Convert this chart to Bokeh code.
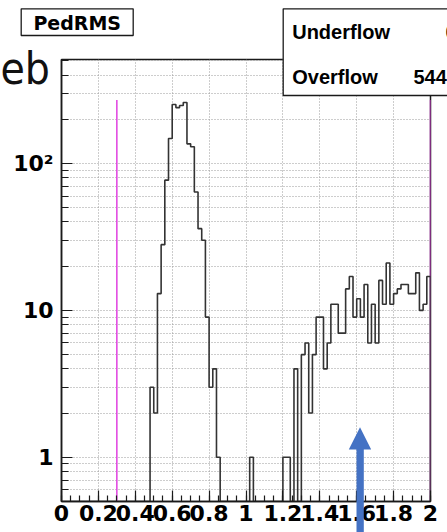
import numpy as np
from bokeh.plotting import figure
from bokeh.models import Range1d, FixedTicker, CustomJSTickFormatter
from bokeh.core.properties import value
from bokeh.embed import file_html
from bokeh.resources import INLINE

# PedRMS distribution: 100 bins of width 0.02 from 0 to 2
bin_low = 0.0
bin_high = 2.0
n_bins = 100
counts = ([0] * 24
          + [3, 2, 13, 28, 77, 148, 252, 240, 248, 260, 136, 130, 64, 36, 30, 9, 3, 4, 1]
          + [0] * 8 + [1] + [0] * 8
          + [1, 1, 0, 4, 0, 5, 6, 2, 5, 9, 9, 4, 6, 11, 11, 7, 7, 14, 17, 9,
             12, 9, 15, 6, 11, 6, 16, 11, 21, 11, 13, 14, 15, 15, 13, 13, 18, 10, 11, 17])
underflow = "0"
overflow = "544"

# cut lines
cut_positions = [0.3, 2.0]
cut_top = 270

x_ticks = [0.0, 0.2, 0.4, 0.6, 0.8, 1.0, 1.2, 1.4, 1.6, 1.8, 2.0]
x_tick_labels = ["0", "0.2", "0.4", "0.6", "0.8", "1", "1.2", "1.4", "1.6", "1.8", "2"]
x_minor = [round(0.05 * k, 2) for k in range(41)]
y_ticks = [1, 10, 100]
y_tick_labels = ["1", "10", "10\u00b2"]
y_minor = [0.5, 0.6, 0.7, 0.8, 0.9, 2, 3, 4, 5, 6, 7, 8, 9,
           20, 30, 40, 50, 60, 70, 80, 90, 200, 300, 400, 500]
y_low, y_high = 0.5, 510

W, H = 447, 532
FL, FR, FT, FB = 61, 17, 59, 31  # frame borders

chart = figure(width=W, height=H, y_axis_type="log", output_backend="svg",
               toolbar_location=None, x_range=Range1d(bin_low, bin_high),
               y_range=Range1d(y_low, y_high),
               min_border_left=FL, min_border_right=FR,
               min_border_top=FT, min_border_bottom=FB)
chart.background_fill_color = "white"
chart.border_fill_color = "white"
chart.outline_line_color = "#1a1a1a"
chart.outline_line_width = 1.5

# histogram outline (empty bins sit on the lower edge of the frame)
edges = np.linspace(bin_low, bin_high, n_bins + 1)
hx, hy = [edges[0]], [y_low]
for i, c in enumerate(counts):
    h = c if c > 0 else y_low
    hx += [edges[i], edges[i + 1]]
    hy += [h, h]
hx.append(edges[-1])
hy.append(y_low)

# grids
xt = FixedTicker(ticks=x_ticks, minor_ticks=x_minor)
yt = FixedTicker(ticks=y_ticks, minor_ticks=y_minor)
chart.xaxis.ticker = xt
chart.yaxis.ticker = yt
chart.xgrid.ticker = xt
chart.ygrid.ticker = yt
for g in (chart.xgrid, chart.ygrid):
    g.grid_line_color = "#9a9a9a"
    g.grid_line_dash = "1 2"
    g.grid_line_width = 1
chart.ygrid.minor_grid_line_color = "#9a9a9a"
chart.ygrid.minor_grid_line_dash = "1 2"
chart.ygrid.minor_grid_line_width = 1

chart.segment(x0=cut_positions, y0=[y_low] * 2, x1=cut_positions, y1=[cut_top] * 2,
              line_color="#e040e0", line_width=1.5)
chart.line(hx, hy, line_color="#333333", line_width=1.6)

# axes
fmt_code = """
const i = tick_vals.findIndex(t => Math.abs(t - tick) < 1e-6 * Math.max(1, Math.abs(t)));
return i >= 0 ? tick_text[i] : "";
"""
chart.xaxis.formatter = CustomJSTickFormatter(
    args=dict(tick_vals=x_ticks, tick_text=x_tick_labels), code=fmt_code)
chart.yaxis.formatter = CustomJSTickFormatter(
    args=dict(tick_vals=y_ticks, tick_text=y_tick_labels), code=fmt_code)
for ax in (chart.xaxis, chart.yaxis):
    ax.axis_line_color = "#1a1a1a"
    ax.axis_line_width = 1.5
    ax.major_tick_line_color = "#1a1a1a"
    ax.minor_tick_line_color = "#1a1a1a"
    ax.major_tick_line_width = 1.2
    ax.minor_tick_line_width = 1.2
    ax.major_tick_out = 0
    ax.minor_tick_out = 0
    ax.major_label_text_font = "DejaVu Sans"
    ax.major_label_text_font_style = "bold"
    ax.major_label_text_font_size = "22px"
    ax.major_label_text_color = "black"
chart.xaxis.major_tick_in = 11
chart.xaxis.minor_tick_in = 6
chart.yaxis.major_tick_in = 11
chart.yaxis.minor_tick_in = 7
chart.xaxis.major_label_standoff = 3
chart.yaxis.major_label_standoff = 8

# transparent layer over the whole page for the boxes, notes and pointer
deco = figure(width=W, height=H, x_range=Range1d(0, W), y_range=Range1d(H, 0),
              output_backend="svg", toolbar_location=None, min_border=0,
              x_axis_location=None, y_axis_location=None,
              styles={"position": "absolute", "left": "0px", "top": "0px", "z-index": "10"})
deco.grid.visible = False
deco.outline_line_color = None
deco.background_fill_alpha = 0
deco.border_fill_alpha = 0

# title box and statistics box
deco.quad(left=[20.7, 282.7], right=[132.7, 470], top=[8.3, 8.3], bottom=[35, 95],
          fill_color="white", line_color="#1a1a1a", line_width=1.3)
# texts are centred vertically on the given y (middle of the font box)
deco.text(x=[76.7], y=[22.5], text=["PedRMS"], text_align="center",
          text_baseline="middle", text_font=value("DejaVu Sans"),
          text_font_style="bold", text_font_size="19px", text_color="black")
deco.text(x=[291.7, 291.7], y=[31, 76.3], text=["Underflow", "Overflow"],
          text_align="left", text_baseline="middle",
          text_font=value("Liberation Sans"), text_font_style="bold",
          text_font_size="20px", text_color="black")
deco.text(x=[445, 413], y=[31, 76.3], text=[underflow, overflow],
          text_align="left", text_baseline="middle",
          text_font=value("Liberation Sans"), text_font_style="bold",
          text_font_size="20px", text_color="black")

# slide text at the left edge
deco.text(x=[0], y=[68], text=["eb"], text_align="left", text_baseline="middle",
          text_font=value("'Liberation Sans Narrow', 'DejaVu Sans Condensed', sans-serif"),
          text_font_size="44px", text_color="#111111")

# blue pointer arrow
deco.patch(x=[356, 356, 348.3, 359.5, 370.7, 363.3, 363.3],
           y=[540, 449, 449, 426.7, 449, 449, 540],
           fill_color="#4472c4", line_alpha=0)

# two page roots: the chart, and the decoration layer placed over it
p = [chart, deco]
open("out.html", "w").write(file_html(p, INLINE))
